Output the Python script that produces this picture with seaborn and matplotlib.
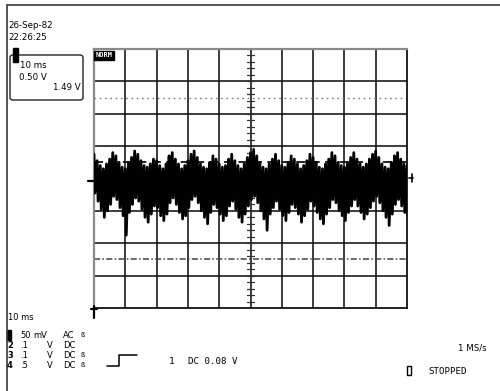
import numpy as np
import matplotlib
matplotlib.use("Agg")
import matplotlib.pyplot as plt
import seaborn as sns
from matplotlib.lines import Line2D
from matplotlib.patches import FancyBboxPatch, Rectangle

# ---- channel 1 acquisition: per-column peak-detect envelope (divisions) ----
trace_hi = [0.75, 0.55, 0.40, 0.30, 0.45, 0.60, 0.80, 0.70, 0.50, 0.35,
            0.30, 0.50, 0.65, 0.85, 0.75, 0.55, 0.40, 0.35, 0.45, 0.60,
            0.55, 0.40, 0.30, 0.45, 0.70, 0.80, 0.60, 0.45, 0.30, 0.40,
            0.55, 0.75, 0.85, 0.65, 0.45, 0.35, 0.30, 0.50, 0.70, 0.60,
            0.45, 0.35, 0.40, 0.60, 0.75, 0.55, 0.40, 0.30, 0.45, 0.65,
            0.80, 0.90, 0.70, 0.50, 0.35, 0.30, 0.45, 0.60, 0.75, 0.55,
            0.40, 0.35, 0.50, 0.70, 0.60, 0.45, 0.30, 0.40, 0.55, 0.75,
            0.65, 0.50, 0.35, 0.30, 0.45, 0.60, 0.80, 0.70, 0.50, 0.40,
            0.35, 0.50, 0.65, 0.80, 0.60, 0.45, 0.35, 0.45, 0.60, 0.75,
            0.85, 0.65, 0.45, 0.35, 0.30, 0.50, 0.70, 0.80, 0.60, 0.45,
            0.40]
trace_lo = [-0.45, -0.70, -0.95, -1.20, -1.00, -0.80, -0.55, -0.65, -0.90, -1.15,
            -1.75, -1.05, -0.80, -0.60, -0.70, -0.95, -1.20, -1.35, -1.10, -0.85,
            -0.90, -1.15, -1.30, -1.10, -0.75, -0.60, -0.80, -1.05, -1.25, -1.15,
            -0.90, -0.65, -0.55, -0.75, -1.00, -1.20, -1.40, -1.05, -0.80, -0.90,
            -1.10, -1.30, -1.15, -0.85, -0.70, -0.95, -1.20, -1.35, -1.10, -0.85,
            -0.65, -0.55, -0.75, -1.00, -1.25, -1.60, -1.10, -0.90, -0.70, -0.95,
            -1.15, -1.30, -1.05, -0.80, -0.90, -1.10, -1.35, -1.15, -0.95, -0.70,
            -0.85, -1.05, -1.25, -1.40, -1.10, -0.90, -0.65, -0.75, -1.00, -1.15,
            -1.30, -1.05, -0.85, -0.65, -0.85, -1.05, -1.25, -1.10, -0.90, -0.70,
            -0.55, -0.75, -1.00, -1.20, -1.45, -1.10, -0.80, -0.65, -0.85, -1.05,
            -1.10]

# graticule and reference levels (divisions)
n_div_x = 10
n_div_y = 8
ref_dotted = 2.5
ref_dashed = 0.5
ref_dashdot = -2.5

# screen annotations
date_text = "26-Sep-82"
time_text = "22:26:25"
cursor_lines = ["10 ms", "0.50 V", "1.49 V"]
timebase_text = "10 ms"
channel_ids = ["1", "2", "3", "4"]
channel_scales = ["50", ".1", ".1", ".5"]
channel_units = ["mV", "V", "V", "V"]
channel_couplings = ["AC", "DC", "DC", "DC"]
channel_bwl = [True, False, True, True]
trigger_source = "1"
trigger_level = "DC 0.08 V"
sample_rate = "1 MS/s"
run_state = "STOPPED"
mode_tag = "NORM"

W, H = 500, 391
sns.set_theme(style="white")
plt.rcParams["font.family"] = ["DejaVu Sans"]
MONO = ["DejaVu Sans Mono"]

fig = plt.figure(figsize=(W / 100, H / 100), dpi=100)
fig.patch.set_facecolor("white")


def fx(x):
    return x / W


def fy(y):
    return 1 - y / H


def label(x, y, s, size=6.0, ha="left", **kw):
    fig.text(fx(x), fy(y), s, ha=ha, va="center", fontsize=size,
             color="black", **kw)


# outer screen frame
fig.add_artist(Line2D([fx(7), fx(7)], [fy(5), fy(391)], color="#3a3a3a",
                      lw=1.2, transform=fig.transFigure))
fig.add_artist(Line2D([fx(7), fx(500)], [fy(5), fy(5)], color="#3a3a3a",
                      lw=1.2, transform=fig.transFigure))

ax = fig.add_axes([fx(94), fy(308), (407 - 94) / W, (308 - 49) / H])
ax.set_xlim(0, n_div_x)
ax.set_ylim(-n_div_y / 2, n_div_y / 2)
ax.set_xticks([])
ax.set_yticks([])
ax.set_facecolor("white")
for side in ["top", "left"]:
    ax.spines[side].set_color("#8a8a8a")
    ax.spines[side].set_linewidth(1.6)
for side in ["right", "bottom"]:
    ax.spines[side].set_color("#111111")
    ax.spines[side].set_linewidth(1.3)

# graticule
for gx in range(1, n_div_x):
    ax.axvline(gx, color="#111111", lw=1.15, zorder=1)
for gy in range(-n_div_y // 2 + 1, n_div_y // 2):
    ax.axhline(gy, color="#111111", lw=1.15, zorder=1)

# minor marks along the centre cross
cx, cy = n_div_x / 2, 0
for ty in np.arange(-n_div_y / 2, n_div_y / 2 + 0.01, 0.2):
    ax.plot([cx - 0.1, cx + 0.1], [ty, ty], color="#333333", lw=0.9, zorder=2)
for tx in np.arange(0, n_div_x + 0.01, 0.2):
    ax.plot([tx, tx], [cy - 0.1, cy + 0.1], color="#333333", lw=0.9, zorder=2)

# reference levels
ax.axhline(ref_dotted, color="#7a7a7a", lw=1.0, ls=(0, (1.2, 2.6)), zorder=2)
ax.axhline(ref_dashed, color="#111111", lw=1.3, ls=(0, (5, 3)), zorder=2)
ax.axhline(ref_dashdot, color="#444444", lw=1.1, ls=(0, (4, 1.5, 1, 1.5)), zorder=2)

# channel 1 trace: zig-zag between envelope extremes
hi = np.asarray(trace_hi)
lo = np.asarray(trace_lo)
xc = np.linspace(0, n_div_x, len(hi))
xs = np.column_stack([xc, xc + 0.03]).ravel()
ys = np.column_stack([hi, lo]).ravel()
sns.lineplot(x=xs, y=ys, sort=False, estimator=None, color="black",
             lw=2.0, ax=ax, zorder=4, legend=False)

# mode tag at top-left of graticule
ax.text(0.06, 3.9, mode_tag, ha="left", va="top", fontsize=5.0,
        color="white", fontweight="bold", family=MONO,
        bbox=dict(boxstyle="square,pad=0.2", fc="black", ec="black"))

# channel ground marker and trigger markers
fig.add_artist(Line2D([fx(88), fx(94)], [fy(181), fy(181)], color="black",
                      lw=1.6, transform=fig.transFigure))
fig.add_artist(Line2D([fx(409), fx(413)], [fy(178), fy(178)], color="black",
                      lw=1.2, transform=fig.transFigure))
fig.add_artist(Line2D([fx(412), fx(412)], [fy(174), fy(182)], color="black",
                      lw=1.2, transform=fig.transFigure))
fig.add_artist(Line2D([fx(94), fx(94)], [fy(306), fy(318)], color="black",
                      lw=1.6, transform=fig.transFigure))
fig.add_artist(Line2D([fx(91), fx(97)], [fy(309), fy(309)], color="black",
                      lw=1.6, transform=fig.transFigure))

# date / time
label(8, 26, date_text, size=6.2)
label(8, 38, time_text, size=6.2)

# cursor readout box
fig.add_artist(FancyBboxPatch((fx(10), fy(100)), fx(73), (100 - 55) / H,
                              boxstyle="round,pad=0,rounding_size=0.006",
                              fc="white", ec="#222222", lw=1.0,
                              transform=fig.transFigure))
fig.add_artist(Rectangle((fx(13), fy(62)), fx(5), 14 / H, fc="black",
                         ec="black", transform=fig.transFigure))
label(20, 65, cursor_lines[0], size=6.2)
label(19, 77, cursor_lines[1], size=6.2)
label(81, 88, cursor_lines[2], ha="right", size=6.2)

# timebase and channel settings
label(8, 318, timebase_text)
row_y = [335, 345, 355, 365]
for i, yy in enumerate(row_y):
    if i == 0:
        fig.add_artist(Rectangle((fx(7), fy(yy + 5)), fx(4), 10 / H,
                                 fc="black", ec="black",
                                 transform=fig.transFigure))
    else:
        label(7, yy, channel_ids[i], fontweight="bold")
    label(20, yy, channel_scales[i])
    label(47 if channel_units[i] == "V" else 33, yy, channel_units[i])
    label(63, yy, channel_couplings[i])
    if channel_bwl[i]:
        label(80, yy, "ß", size=5.0)

# trigger step symbol and level
fig.add_artist(Line2D([fx(107), fx(119), fx(119), fx(137)],
                      [fy(366), fy(366), fy(355), fy(355)],
                      color="black", lw=1.1, transform=fig.transFigure))
label(172, 362, trigger_source, ha="center", size=6.8)
label(188, 362, trigger_level, size=6.6, family=MONO)

# acquisition status
label(487, 348, sample_rate, ha="right", size=6.2)
fig.add_artist(Rectangle((fx(407), fy(375)), fx(4), 9 / H, fc="white",
                         ec="black", lw=1.0, transform=fig.transFigure))
label(428, 372, run_state, size=6.6, family=MONO)

fig.savefig("out.png", dpi=100, facecolor="white")
